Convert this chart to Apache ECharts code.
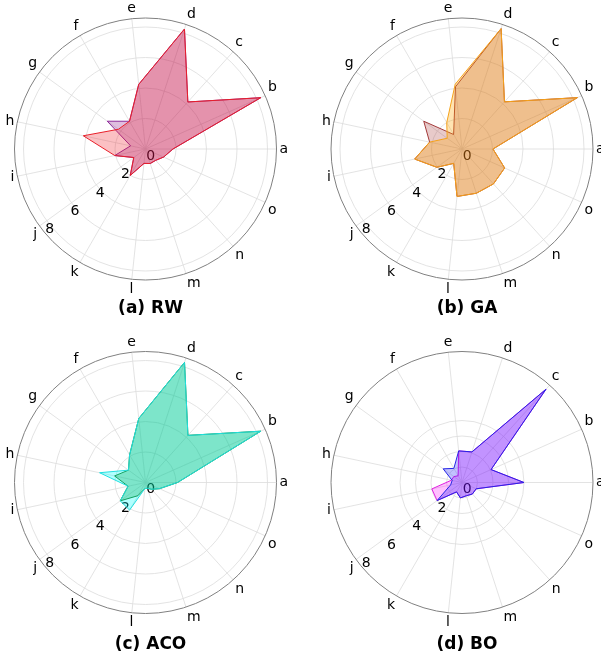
<!DOCTYPE html>
<html><head><meta charset="utf-8">
<script src="https://cdn.jsdelivr.net/npm/echarts@6/dist/echarts.min.js"></script>
<style>html,body{margin:0;padding:0;background:#fff}#c{width:601px;height:656px}</style>
</head><body><div id="c"></div>
<script>
// ---- data ----
const categories = ['a','b','c','d','e','f','g','h','i','j','k','l','m','n','o'];
const radialTickStep = 2;
const radialTickMax = 8;
// (a) RW
const rwMain = [1.8, 8.27, 4.15, 8.27, 4.26, 2.1, 2.2, 4.17, 2.06, 0.95, 2.0, 0.95, 1.0, 1.0, 1.3];
const rwAlt  = [1.8, 8.27, 4.15, 8.27, 4.26, 2.1, 3.1, 1.0, 2.06, 0.95, 2.0, 0.95, 1.0, 1.0, 1.3];
// (b) GA
const gaMain = [2.03, 8.28, 4.16, 8.3, 4.27, 2.0, 1.2, 2.17, 3.17, 2.04, 1.09, 3.13, 3.05, 3.08, 3.06];
const gaAlt  = [2.03, 8.28, 4.16, 8.3, 4.1, 1.1, 3.1, 2.17, 3.17, 2.04, 1.09, 3.13, 3.05, 3.08, 3.06];
// (c) ACO
const acoMain = [2.1, 8.27, 4.16, 8.28, 4.22, 2.09, 1.38, 3.08, 1.17, 2.05, 2.09, 0.4, 0.4, 0.6, 1.0];
const acoAlt  = [2.1, 8.27, 4.16, 8.28, 4.22, 2.09, 1.38, 2.07, 1.17, 2.05, 1.0, 0.4, 0.4, 0.6, 1.0];
// (d) BO
const boMain = [8.0, 4.1, 16.2, 4.15, 4.1, 2.1, 3.0, 1.3, 1.5, 3.97, 1.4, 2.0, 1.8, 2.0, 2.0];
const boAlt  = [8.0, 4.1, 16.2, 4.15, 4.1, 1.0, 1.3, 1.4, 3.98, 3.97, 1.4, 2.0, 1.8, 2.0, 2.0];

// ---- layout / style ----
const FONT = 'DejaVu Sans';
const panels = [
  {title:'(a) RW', center:[145.5,149], titleTop:295, main:rwMain, alt:rwAlt, rmax:8.59, gridR:122,
   mainLine:'#e8202a', mainArea:'rgba(240,30,40,0.28)', altLine:'#8e2a9a', altArea:'rgba(128,0,128,0.25)'},
  {title:'(b) GA', center:[462,149], titleTop:295, main:gaMain, alt:gaAlt, rmax:8.59, gridR:122,
   mainLine:'#f5a21b', mainArea:'rgba(255,165,0,0.3)', altLine:'#a33a3a', altArea:'rgba(165,42,42,0.25)'},
  {title:'(c) ACO', center:[145.5,482.5], titleTop:631, main:acoMain, alt:acoAlt, rmax:8.59, gridR:122,
   mainLine:'#22e0e0', mainArea:'rgba(0,255,255,0.3)', altLine:'#1a7a1a', altArea:'rgba(0,128,0,0.3)'},
  {title:'(d) BO', center:[462,482.5], titleTop:631, main:boMain, alt:boAlt, rmax:16.9, gridR:62,
   mainLine:'#2626e6', mainArea:'rgba(20,20,255,0.26)', altLine:'#e020e0', altArea:'rgba(255,0,255,0.25)'}
];
const R = 131, LABEL_R = 125;
const step = 360 / categories.length;

const option = {animation:false, title:[], polar:[], angleAxis:[], radiusAxis:[], series:[]};
function toPolar(vals){
  const pts = vals.map((v,k)=>[v, k*step]);
  pts.push([vals[0], 360]);
  return pts;
}
panels.forEach((p,i)=>{
  const b = i*3;
  option.title.push({text:p.title, left:p.center[0], top:p.titleTop, textAlign:'center',
    textStyle:{fontFamily:FONT, fontWeight:'bold', fontSize:17, color:'#000'}});
  option.polar.push({center:p.center, radius:R});
  option.polar.push({center:p.center, radius:p.gridR});
  option.polar.push({center:p.center, radius:LABEL_R});
  option.angleAxis.push({polarIndex:b, type:'value', min:0, max:360, interval:step, startAngle:0, clockwise:false,
    axisLine:{show:true, lineStyle:{color:'#808080', width:1}}, axisTick:{show:false},
    axisLabel:{show:true, margin:3, color:'#000', fontSize:14, fontFamily:FONT,
      formatter:(v)=> (v>=360 ? '' : (categories[Math.round(v/step)] || ''))},
    splitLine:{show:true, lineStyle:{color:'#dcdcdc', width:0.8}}});
  option.angleAxis.push({polarIndex:b+1, type:'value', min:0, max:360, show:false});
  option.angleAxis.push({polarIndex:b+2, type:'value', min:0, max:360, startAngle:216, clockwise:false, show:false});
  option.radiusAxis.push({polarIndex:b, type:'value', min:0, max:p.rmax, show:false, splitLine:{show:false}});
  option.radiusAxis.push({polarIndex:b+1, type:'value', min:0, max:radialTickMax, interval:radialTickStep,
    axisLine:{show:false}, axisTick:{show:false}, axisLabel:{show:false},
    splitLine:{show:true, lineStyle:{color:'#dcdcdc', width:0.8}}});
  option.radiusAxis.push({polarIndex:b+2, type:'value', min:0, max:radialTickMax, interval:radialTickStep,
    axisLine:{show:false}, axisTick:{show:false}, splitLine:{show:false},
    axisLabel:{show:true, color:'#000', fontSize:14, fontFamily:FONT, margin:9, align:'center', verticalAlign:'middle'}});
  option.series.push({type:'line', coordinateSystem:'polar', polarIndex:b, data:toPolar(p.alt),
    showSymbol:false, symbol:'none', silent:true, lineStyle:{color:p.altLine, width:1}, areaStyle:{color:p.altArea, opacity:1}, z:3});
  option.series.push({type:'line', coordinateSystem:'polar', polarIndex:b, data:toPolar(p.main),
    showSymbol:false, symbol:'none', silent:true, lineStyle:{color:p.mainLine, width:1}, areaStyle:{color:p.mainArea, opacity:1}, z:4});
});
const chart = echarts.init(document.getElementById('c'), null, {renderer:'canvas'});
chart.setOption(option);
</script></body></html>
